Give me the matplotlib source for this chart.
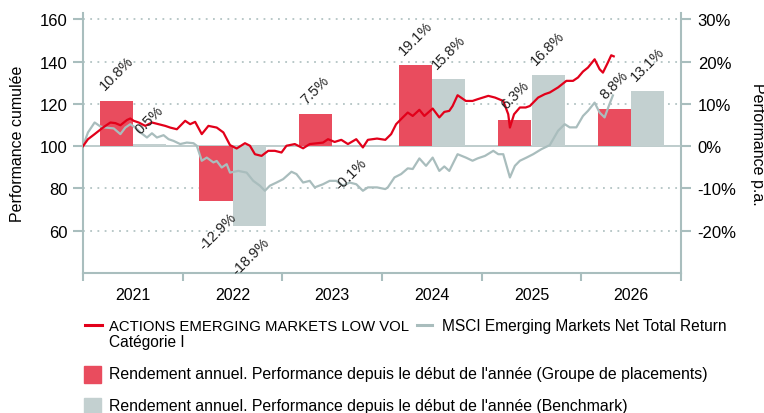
import numpy as np
import matplotlib
matplotlib.use("Agg")
import matplotlib.pyplot as plt
from matplotlib.lines import Line2D
from matplotlib.patches import Rectangle

plt.rcParams['font.family'] = ['Liberation Sans', 'DejaVu Sans']

# ---- data ----
years = ['2021', '2022', '2023', '2024', '2025', '2026']
fund_pct = [10.8, -12.9, 7.5, 19.1, 6.3, 8.8]
bench_pct = [0.5, -18.9, -0.1, 15.8, 16.8, 13.1]

# months since start of 2021, cumulative performance (start = 100)
fund_m = [0, 0.6, 1.4, 2.4, 3.3, 3.9, 4.5, 5.3, 5.7, 6.1, 6.7, 7.5, 8.3, 9.1, 9.9,
          10.5, 11.3, 11.9, 12.3, 12.9, 13.5, 14.3, 15.1, 16.1, 16.9, 17.7, 18.5,
          19.5, 20.1, 20.7, 21.5, 22.3, 23.1, 23.9, 24.5, 25.5, 26.5, 27.3, 28.9,
          29.5, 30.3, 31.1, 31.9, 32.9, 33.7, 34.3, 35.4, 36.4, 37.1, 37.7, 38.5,
          39.1, 39.7, 40.5, 41.1, 42.1, 42.9, 43.5, 44.1, 44.5, 45.1, 46.1, 46.9,
          47.5, 48.8, 49.6, 50.6, 51.2, 51.4, 51.9, 52.6, 53.3, 53.8, 54.8, 55.6,
          56.2, 57.2, 58.2, 59.0, 59.6, 60.2, 60.8, 61.6, 62.2, 62.6, 63.2, 63.6, 63.9]
fund_v = [100, 103.3, 105.7, 108.8, 111.2, 110.9, 109.9, 112.4, 113.1, 112.0, 111.2,
          109.6, 111.2, 110.4, 109.6, 108.8, 108.0, 110.4, 112.0, 110.4, 111.5, 105.7,
          109.6, 108.8, 106.5, 100.5, 98.9, 101.4, 100.2, 96.2, 95.4, 97.8, 97.8, 97.0,
          100.2, 101.0, 99.0, 101.0, 101.7, 103.3, 102.0, 103.0, 101.0, 103.3, 99.4,
          103.0, 103.6, 103.0, 105.7, 110.4, 113.6, 115.9, 114.3, 117.2, 114.3, 117.8,
          113.6, 116.2, 116.7, 119.0, 124.1, 121.4, 121.4, 122.2, 123.8, 123.0, 121.4,
          115.1, 108.8, 115.1, 118.3, 118.3, 119.0, 123.0, 124.6, 125.4, 127.8, 130.9,
          130.9, 132.5, 135.3, 137.2, 141.1, 136.4, 134.8, 139.6, 143.0, 142.5]

bench_m = [0, 0.6, 1.4, 2.1, 2.7, 3.7, 4.5, 5.1, 5.7, 6.3, 6.9, 7.7, 8.3, 8.9, 9.7,
           10.3, 10.9, 11.7, 12.5, 13.3, 13.7, 14.3, 14.9, 15.7, 16.1, 16.7, 17.3,
           17.7, 18.7, 19.7, 20.5, 21.3, 21.9, 22.5, 23.3, 24.1, 25.1, 25.7, 26.5,
           27.3, 27.9, 28.9, 29.7, 30.5, 31.3, 32.1, 32.9, 33.7, 34.3, 35.4, 36.4,
           36.7, 37.5, 38.3, 39.1, 39.7, 40.5, 41.3, 42.1, 42.9, 43.5, 44.1, 45.1,
           46.1, 46.9, 47.5, 48.4, 49.4, 50.0, 50.6, 51.4, 52.0, 52.6, 53.4, 54.2,
           55.2, 56.2, 57.2, 58.0, 58.6, 59.4, 60.2, 60.8, 61.6, 62.2, 62.8, 63.4, 63.8]
bench_v = [100, 106.5, 111.2, 109.3, 108.8, 108.4, 105.7, 108.8, 110.4, 108.8, 106.5,
           104.1, 106.1, 104.1, 105.2, 103.3, 102.5, 101.0, 101.7, 101.4, 100.2, 93.1,
           94.6, 92.3, 93.0, 89.9, 91.5, 87.5, 88.3, 87.5, 83.6, 81.3, 78.9, 81.3, 82.8,
           84.4, 87.9, 86.8, 82.8, 83.6, 80.5, 82.0, 83.6, 83.6, 81.3, 82.8, 82.0, 78.9,
           80.5, 80.5, 79.7, 80.5, 85.2, 86.8, 89.5, 89.2, 94.2, 90.7, 94.6, 88.3, 90.4,
           88.3, 96.2, 94.6, 93.1, 94.2, 95.4, 97.8, 96.2, 96.2, 85.2, 90.7, 93.1, 94.6,
           96.2, 98.6, 100.5, 107.3, 110.4, 108.9, 108.9, 114.3, 116.7, 120.6, 115.9,
           113.6, 120.0, 124.0]

fund_label = ['ACTIONS EMERGING MARKETS LOW VOL', 'Catégorie I']
bench_label = 'MSCI Emerging Markets Net Total Return'
bar_fund_label = "Rendement annuel. Performance depuis le début de l'année (Groupe de placements)"
bar_bench_label = "Rendement annuel. Performance depuis le début de l'année (Benchmark)"

RED = '#e2001a'
RED_BAR = '#e94c5e'
GREY = '#a9bdbd'
GREY_BAR = '#c3d0d0'
AXC = '#a9bebe'

W, H = 764, 414
fig = plt.figure(figsize=(W / 100, H / 100), dpi=100)
ax = fig.add_axes([83 / W, 1 - 274 / H, (681 - 83) / W, (274 - 14) / H])

to_left = lambda p: 100 + 2 * np.asarray(p)
to_right = lambda y: (np.asarray(y) - 100) / 2

x = np.arange(len(years))
bw = 1 / 3
ax.bar(x + 0.5 - bw / 2, 2 * np.array(fund_pct), bw, bottom=100, color=RED_BAR, zorder=2)
ax.bar(x + 0.5 + bw / 2, 2 * np.array(bench_pct), bw, bottom=100, color=GREY_BAR, zorder=2)

for xs, vals in ((x + 0.5 - bw / 2, fund_pct), (x + 0.5 + bw / 2, bench_pct)):
    for xi, v in zip(xs, vals):
        y = 100 + 2 * v
        if v >= 0:
            ax.annotate(f'{v}%', (xi, y), xytext=(0, 8), textcoords='offset pixels',
                        rotation=45, ha='center', va='bottom', fontsize=10.5, color='#222222', zorder=5)
        else:
            ax.annotate(f'{v}%', (xi, y), xytext=(2, -9), textcoords='offset pixels',
                        rotation=45, ha='center', va='top', fontsize=10.5, color='#222222', zorder=5)

ax.plot(np.array(bench_m) / 12, bench_v, color=GREY, lw=1.6, zorder=3)
ax.plot(np.array(fund_m) / 12, fund_v, color=RED, lw=1.6, zorder=4)

ax.set_xlim(0, 6)
ax.set_ylim(40, 163)
ax.set_yticks([60, 80, 100, 120, 140, 160])
for gy in [60, 80, 120, 140, 160]:
    ax.axhline(gy, color='#b3c4c4', lw=1.3, ls=(0, (1, 3)), zorder=1)
ax.axhline(100, color='#b3c4c4', lw=1.2, zorder=1)

ax.set_xticks(range(7))
ax.set_xticklabels([])
ax.set_xticks(x + 0.5, minor=True)
ax.set_xticklabels(years, minor=True)
ax.tick_params(axis='x', which='major', length=6, width=1.5, color=AXC)
ax.tick_params(axis='x', which='minor', length=0, pad=10, labelsize=11.5)
ax.tick_params(axis='y', length=7, width=1.5, color=AXC, labelsize=12, pad=4)

for s in ['top', 'right']:
    ax.spines[s].set_visible(False)
for s in ['left', 'bottom']:
    ax.spines[s].set_color(AXC)
    ax.spines[s].set_linewidth(1.5)

sec = ax.secondary_yaxis('right', functions=(to_right, to_left))
sec.set_yticks([-20, -10, 0, 10, 20, 30])
sec.set_yticklabels(['-20%', '-10%', '0%', '10%', '20%', '30%'])
sec.tick_params(length=7, width=1.5, color=AXC, labelsize=12, pad=5)
sec.spines['right'].set_color(AXC)
sec.spines['right'].set_linewidth(1.5)

fig.text(18 / W, 1 - 144 / H, 'Performance cumulée', rotation=90, ha='center', va='center', fontsize=11.5)
fig.text(757 / W, 1 - 144 / H, 'Performance p.a.', rotation=270, ha='center', va='center', fontsize=11.5)

# legend drawn by hand in pixel positions
def fx(px):
    return px / W

def fy(py):
    return 1 - py / H

fig.add_artist(Line2D([fx(85), fx(102)], [fy(326), fy(326)], color=RED, lw=2.2))
fig.text(fx(109), fy(327), fund_label[0], ha='left', va='center', fontsize=10.7)
fig.text(fx(109), fy(343), fund_label[1], ha='left', va='center', fontsize=11.2)
fig.add_artist(Line2D([fx(417), fx(432)], [fy(326), fy(326)], color=GREY, lw=2.2))
fig.text(fx(442), fy(327), bench_label, ha='left', va='center', fontsize=11.2)

fig.add_artist(Rectangle((fx(84), fy(384)), 17 / W, 17 / H, color=RED_BAR, transform=fig.transFigure))
fig.text(fx(109), fy(375), bar_fund_label, ha='left', va='center', fontsize=11.4)
fig.add_artist(Rectangle((fx(84), fy(416)), 17 / W, 17 / H, color=GREY_BAR, transform=fig.transFigure))
fig.text(fx(109), fy(407), bar_bench_label, ha='left', va='center', fontsize=11.4)

fig.savefig('out.png', dpi=100)
